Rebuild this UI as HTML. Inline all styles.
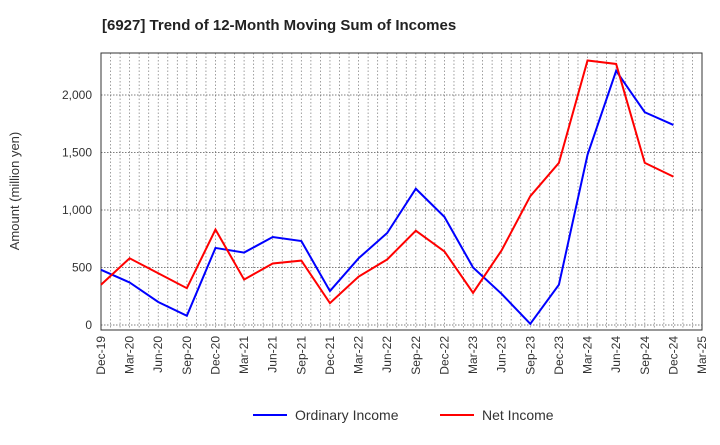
<!DOCTYPE html>
<html><head><meta charset="utf-8"><style>
body{margin:0;background:#fff;font-family:"Liberation Sans",sans-serif;}
</style></head><body>
<svg id="chart" width="720" height="440" xmlns="http://www.w3.org/2000/svg">
<text x="102" y="30" font-size="15" font-weight="bold" fill="#222">[6927]  Trend of 12-Month Moving Sum of Incomes</text>
<text transform="translate(19,191) rotate(-90)" text-anchor="middle" font-size="13" fill="#333">Amount (million yen)</text>
<g id="grid"></g><g id="axes"></g><g id="series"></g>
<g>
<line x1="253" y1="415" x2="287" y2="415" stroke="#0000ff" stroke-width="2"/>
<text x="295" y="420" font-size="14" fill="#333">Ordinary Income</text>
<line x1="440" y1="415" x2="474" y2="415" stroke="#ff0000" stroke-width="2"/>
<text x="482" y="420" font-size="14" fill="#333">Net Income</text>
</g>
</svg>
<script>
const categories=["Dec-19","Mar-20","Jun-20","Sep-20","Dec-20","Mar-21","Jun-21","Sep-21","Dec-21","Mar-22","Jun-22","Sep-22","Dec-22","Mar-23","Jun-23","Sep-23","Dec-23","Mar-24","Jun-24","Sep-24","Dec-24","Mar-25"];
const ordinaryIncome=[480,370,200,80,670,630,765,730,295,580,800,1185,940,500,270,10,350,1480,2210,1850,1740];
const netIncome=[350,580,450,320,830,395,535,560,190,420,570,820,640,280,650,1120,1410,2300,2270,1410,1290];
const yTicks=[0,500,1000,1500,2000];
const yTickLabels=["0","500","1,000","1,500","2,000"];
const NS="http://www.w3.org/2000/svg";
const L=101,R=702,T=53,B=330;
const xs=i=>L+i*(R-L)/(categories.length-1);
const ys=v=>325-v*0.115;
function mk(tag,attrs,parent){const e=document.createElementNS(NS,tag);for(const k in attrs)e.setAttribute(k,attrs[k]);parent.appendChild(e);return e;}
const grid=document.getElementById('grid'),axes=document.getElementById('axes'),series=document.getElementById('series');
for(let m=1;m<(categories.length-1)*3;m++){
 const x=xs(m/3);
 const l=mk('line',{x1:x,x2:x,y1:T,y2:B,stroke:'#888','stroke-dasharray':'1.5,2','stroke-width':0.8},grid);
 
 
}
categories.forEach((c,i)=>{
 const x=xs(i);
 const t=mk('text',{transform:`translate(${x+4},${B+6}) rotate(-90)`,'text-anchor':'end','font-size':12,fill:'#333'},axes);
 t.textContent=c;
 
 
});
yTicks.forEach((v,i)=>{
 const l=mk('line',{x1:L,x2:R,y1:ys(v),y2:ys(v),stroke:'#555','stroke-dasharray':'1.5,1.5','stroke-width':0.8},grid);
 
 
 const t=mk('text',{x:L-9,y:ys(v)+4,'text-anchor':'end','font-size':12,fill:'#333'},axes);
 t.textContent=yTickLabels[i];
 
 
});
const frame=mk('rect',{x:L,y:T,width:R-L,height:B-T,fill:'none',stroke:'#333','stroke-width':1},axes);


function line(arr,color,name){
 const p=mk('polyline',{points:arr.map((v,i)=>xs(i)+','+ys(v)).join(' '),fill:'none',stroke:color,'stroke-width':2},series);
 
 
}
line(ordinaryIncome,'#0000ff','ordinary-income-line');
line(netIncome,'#ff0000','net-income-line');
</script>
</body></html>
